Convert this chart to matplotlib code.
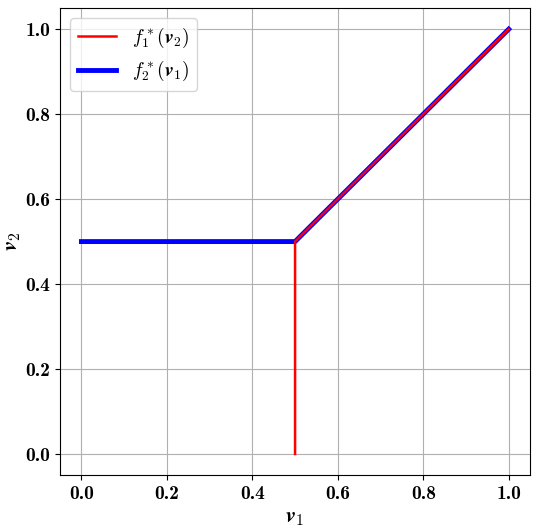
import os
import matplotlib
matplotlib.use("Agg")
import matplotlib.pyplot as plt
from matplotlib.font_manager import FontProperties

plt.rcParams['mathtext.fontset'] = 'cm'
plt.rcParams['font.family'] = 'serif'
plt.rcParams['font.serif'] = ['DejaVu Serif']
bold_cm = FontProperties(fname=os.path.join(matplotlib.get_data_path(), 'fonts', 'ttf', 'cmb10.ttf'), size=14)

# best responses
red_v1 = [0.5, 0.5, 1.0]
red_v2 = [0.0, 0.5, 1.0]
blue_v1 = [0.0, 0.5, 1.0]
blue_v2 = [0.5, 0.5, 1.0]
ticks = [0.0, 0.2, 0.4, 0.6, 0.8, 1.0]

fig = plt.figure(figsize=(5.36, 5.28), dpi=100)
ax = fig.add_axes([0.112, 0.1, 0.877, 0.885])
ax.plot(red_v1, red_v2, color='red', lw=1.8, zorder=3, label=r'$f_1^*(\mathbfit{v}_2)$')
ax.plot(blue_v1, blue_v2, color='blue', lw=3.5, zorder=2, label=r'$f_2^*(\mathbfit{v}_1)$')
ax.set_xticks(ticks)
ax.set_yticks(ticks)
ax.set_xticklabels(['%.1f' % t for t in ticks], fontproperties=bold_cm)
ax.set_yticklabels(['%.1f' % t for t in ticks], fontproperties=bold_cm)
ax.set_xlabel(r'$\mathbfit{v}_1$', fontsize=16, labelpad=2)
ax.set_ylabel(r'$\mathbfit{v}_2$', fontsize=16, labelpad=2)
ax.set_xlim(-0.05, 1.05)
ax.set_ylim(-0.05, 1.05)
ax.grid(True, color='#b0b0b0', lw=0.8)
h, l = ax.get_legend_handles_labels()
ax.legend(h, l, loc='upper left', fontsize=14)
fig.savefig('out.png', dpi=100)
